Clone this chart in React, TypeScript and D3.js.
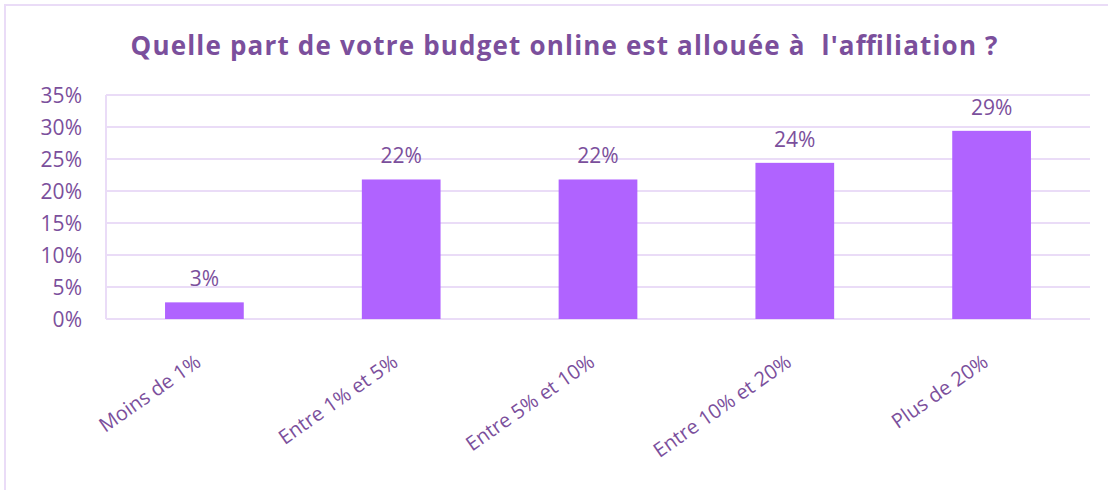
import React from "react";
import * as d3 from "d3";

const categories = ["Moins de 1%", "Entre 1% et 5%", "Entre 5% et 10%", "Entre 10% et 20%", "Plus de 20%"];
const shares = [2.6, 21.8, 21.8, 24.4, 29.4];
const yTicks = [0, 5, 10, 15, 20, 25, 30, 35];

const title = "Quelle part de votre budget online est allouée à  l'affiliation ?";

const width = 1108;
const height = 490;
const margin = { top: 95, right: 18, bottom: 171, left: 106 };

const textColor = "#7b4f9c";
const gridColor = "#eadcf7";
const barColor = "#b063ff";
const font = "'Open Sans', 'DejaVu Sans', sans-serif";

const App = () => {
  const x = d3
    .scaleBand()
    .domain(categories)
    .range([margin.left, width - margin.right])
    .paddingInner(0.6)
    .paddingOuter(0.3);

  const y = d3
    .scaleLinear()
    .domain([0, 35])
    .range([height - margin.bottom, margin.top]);

  return (
    <svg
      width={width}
      height={height}
      style={{ position: "absolute", left: 0, top: 0, background: "#fff" }}
    >
      <rect x={5} y={5} width={width + 10} height={height + 10} fill="none" stroke={gridColor} strokeWidth={2} />
      <text
        x={564}
        y={55}
        textAnchor="middle"
        fill={textColor}
        fontFamily={font}
        fontWeight="bold"
        fontSize={26}
        textLength={867}
        lengthAdjust="spacing"
        style={{ whiteSpace: "pre" }}
      >
        {title}
      </text>

      {yTicks.map((t) => (
        <g key={t}>
          <line
            x1={margin.left}
            x2={width - margin.right}
            y1={y(t)}
            y2={y(t)}
            stroke={gridColor}
            strokeWidth={2}
          />
          <text
            x={82}
            y={y(t)}
            dy="0.36em"
            textAnchor="end"
            fill={textColor}
            fontFamily={font}
            fontSize={21}
          >
            {t}%
          </text>
        </g>
      ))}
      <line x1={margin.left} x2={margin.left} y1={y(35)} y2={y(0)} stroke={gridColor} strokeWidth={2} />

      {categories.map((c, i) => {
        const cx = x(c)! + x.bandwidth() / 2;
        return (
          <g key={c}>
            <rect
              x={x(c)}
              y={y(shares[i])}
              width={x.bandwidth()}
              height={y(0) - y(shares[i])}
              fill={barColor}
            />
            <text
              x={cx}
              y={y(shares[i]) - 16}
              textAnchor="middle"
              fill={textColor}
              fontFamily={font}
              fontSize={21}
            >
              {Math.round(shares[i])}%
            </text>
            <text
              transform={`translate(${cx - 2},${y(0) + 46}) rotate(-35)`}
              textAnchor="end"
              fill={textColor}
              fontFamily={font}
              fontSize={20}
            >
              {c}
            </text>
          </g>
        );
      })}
    </svg>
  );
};

export default App;
